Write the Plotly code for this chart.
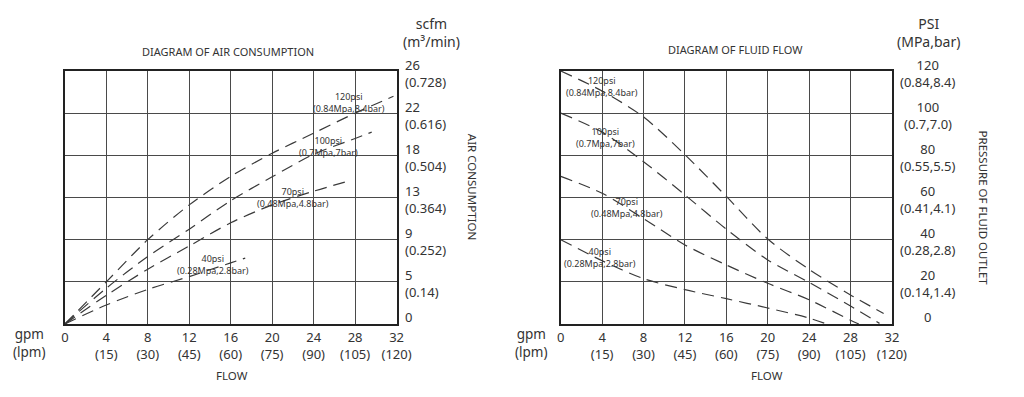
import numpy as np
import plotly.graph_objects as go

# ---------------- data ----------------
gpm_ticks = [0, 4, 8, 12, 16, 20, 24, 28, 32]
lpm_ticks = ["", "(15)", "(30)", "(45)", "(60)", "(75)", "(90)", "(105)", "(120)"]

# Air consumption chart (scfm axis with uneven labels at equal spacing)
scfm_ticks = [0, 5, 9, 13, 18, 22, 26]
m3_ticks = ["", "(0.14)", "(0.252)", "(0.364)", "(0.504)", "(0.616)", "(0.728)"]

air_120_gpm = [0, 4, 8, 12, 16, 20, 24, 28, 31.7]
air_120_scfm = [0, 5.0, 9.0, 12.3, 15.5, 18.2, 20.1, 22.0, 23.6]
air_100_gpm = [0, 4, 8, 12, 16, 20, 24, 28, 29.6]
air_100_scfm = [0, 4.25, 7.4, 10.0, 12.7, 15.45, 18.1, 19.6, 20.2]
air_70_gpm = [0, 4, 8, 12, 16, 20, 24, 27.4]
air_70_scfm = [0, 3.4, 6.2, 8.4, 10.6, 12.3, 13.75, 14.95]
air_40_gpm = [0, 4, 8, 12, 16, 17.4]
air_40_scfm = [0, 2.25, 4.1, 5.5, 6.8, 7.25]

# Fluid flow chart
psi_ticks = [0, 20, 40, 60, 80, 100, 120]
mpa_ticks = ["", "(0.14,1.4)", "(0.28,2.8)", "(0.41,4.1)", "(0.55,5.5)", "(0.7,7.0)", "(0.84,8.4)"]

flow_120_gpm = [0, 4, 8, 12, 16, 20, 24, 28, 31.2]
flow_120_psi = [120, 110.5, 98.2, 80.3, 60.5, 40.3, 25.9, 13.8, 5]
flow_100_gpm = [0, 4, 8, 12, 16, 20, 24, 28, 30.8]
flow_100_psi = [100, 91, 77, 61.2, 45, 30.4, 19.7, 8.5, 0.3]
flow_70_gpm = [0, 4, 8, 12, 16, 20, 24, 28, 28.8]
flow_70_psi = [70, 62, 50, 37.5, 28, 19.3, 11.5, 1.8, 0]
flow_40_gpm = [0, 4, 8, 12, 16, 20, 24, 25.7]
flow_40_psi = [40, 30, 21.5, 16.3, 12, 7.6, 2.8, 0]

series_labels = ["120psi<br>(0.84Mpa,8.4bar)", "100psi<br>(0.7Mpa,7bar)",
                 "70psi<br>(0.48Mpa,4.8bar)", "40psi<br>(0.28Mpa,2.8bar)"]

# ---------------- figure ----------------
W, H = 1024, 397
FONT = "Noto Sans"
TXT = "#333333"
LINE = "#3a3a3a"
DASH = "12px,7px"

def px(x):
    return x / W

def py(y):
    return 1 - y / H

level_pos = list(range(len(scfm_ticks)))

def to_level(v):
    return np.interp(v, scfm_ticks, level_pos)

fig = go.Figure()

air = [(air_120_gpm, air_120_scfm), (air_100_gpm, air_100_scfm),
       (air_70_gpm, air_70_scfm), (air_40_gpm, air_40_scfm)]
for xs, ys in air:
    fig.add_trace(go.Scatter(x=xs, y=to_level(ys), mode="lines",
                             line=dict(color=LINE, width=1.2, dash=DASH, shape="spline", smoothing=0.8),
                             xaxis="x", yaxis="y", showlegend=False, hoverinfo="skip"))

flow = [(flow_120_gpm, flow_120_psi), (flow_100_gpm, flow_100_psi),
        (flow_70_gpm, flow_70_psi), (flow_40_gpm, flow_40_psi)]
for xs, ys in flow:
    fig.add_trace(go.Scatter(x=xs, y=ys, mode="lines",
                             line=dict(color=LINE, width=1.2, dash=DASH, shape="spline", smoothing=0.8),
                             xaxis="x2", yaxis="y2", showlegend=False, hoverinfo="skip"))

xt = [f"{g}<br>{l}" if l else f"{g}" for g, l in zip(gpm_ticks, lpm_ticks)]
common_x = dict(range=[0, 32], tickvals=gpm_ticks, ticktext=xt, showgrid=True,
                gridcolor="#4a4a4a", gridwidth=1.2, zeroline=False, showline=True,
                linecolor="#222222", linewidth=2, mirror=True, ticks="",
                tickfont=dict(family=FONT, size=13, color=TXT), fixedrange=True)
common_y = dict(showgrid=True, gridcolor="#4a4a4a", gridwidth=1.2, zeroline=False,
                showline=True, linecolor="#222222", linewidth=2, mirror=True,
                ticks="", showticklabels=False, fixedrange=True)

fig.update_layout(
    width=W, height=H, autosize=False, margin=dict(l=0, r=0, t=0, b=0),
    paper_bgcolor="white", plot_bgcolor="white",
    font=dict(family=FONT, color=TXT),
    xaxis=dict(domain=[px(62), px(400)], anchor="y", **common_x),
    yaxis=dict(domain=[py(324), py(71)], anchor="x", range=[0, 6],
               tickvals=level_pos, **common_y),
    xaxis2=dict(domain=[px(567.3), px(904.7)], anchor="y2", **common_x),
    yaxis2=dict(domain=[py(324), py(71)], anchor="x2", range=[0, 120],
                tickvals=psi_ticks, **common_y),
)

ann = []

def paper_text(x, y, text, size, **kw):
    d = dict(x=px(x), y=py(y), xref="paper", yref="paper", text=text, showarrow=False,
             xanchor="center", yanchor="middle", align="center",
             font=dict(family=FONT, size=size, color=TXT))
    d.update(kw)
    return d

# right-side tick labels, left chart
for i, (v, s) in enumerate(zip(scfm_ticks, m3_ticks)):
    t = f"{v}<br>{s}" if s else f"{v}"
    ann.append(dict(x=px(407), xref="paper", y=i, yref="y", text=t, showarrow=False,
                    xanchor="left", yanchor="middle", align="left",
                    yshift=(7 if not s else -2),
                    font=dict(family=FONT, size=13, color=TXT)))
# right-side tick labels, right chart
for v, s in zip(psi_ticks, mpa_ticks):
    t = f"{v}<br>{s}" if s else f"{v}"
    ann.append(dict(x=px(941), xref="paper", y=v, yref="y2", text=t, showarrow=False,
                    xanchor="center", yanchor="middle", align="center",
                    yshift=(7 if not s else -2),
                    font=dict(family=FONT, size=13, color=TXT)))

# unit headers
ann.append(paper_text(436, 33, "scfm<br>(m³/min)", 14))
ann.append(paper_text(942, 33, "PSI<br>(MPa,bar)", 14))
# titles
ann.append(paper_text(228, 51.5, "DIAGRAM OF AIR CONSUMPTION", 11))
ann.append(paper_text(745, 49.5, "DIAGRAM OF FLUID FLOW", 11))
# vertical axis titles
ann.append(paper_text(478, 187, "AIR CONSUMPTION", 11.5, textangle=90))
ann.append(paper_text(999, 208, "PRESSURE OF FLUID OUTLET", 11.5, textangle=90))
# x titles
for xc in (232.7, 777):
    ann.append(paper_text(xc, 375, "FLOW", 11.5))
for xc in (26, 537):
    ann.append(paper_text(xc, 342.5, "gpm<br>(lpm)", 13.5))

# curve labels
left_lab_pos = [(27.4, 5.25), (25.4, 4.2), (22.0, 3.01), (14.3, 1.41)]
right_lab_pos = [(3.95, 112.5), (4.3, 88.5), (6.4, 55.1), (3.75, 31.5)]
for lab, (x, y) in zip(series_labels, left_lab_pos):
    ann.append(dict(x=x, y=y, xref="x", yref="y", text=lab, showarrow=False,
                    xanchor="center", yanchor="middle",
                    align="center", font=dict(family=FONT, size=9, color=TXT)))
for lab, (x, y) in zip(series_labels, right_lab_pos):
    ann.append(dict(x=x, y=y, xref="x2", yref="y2", text=lab, showarrow=False,
                    xanchor="center", yanchor="middle",
                    align="center", font=dict(family=FONT, size=9, color=TXT)))

fig.update_layout(annotations=ann)
post = ("document.documentElement.style.overflow='hidden';"
        "document.body.style.margin='0';document.body.style.overflow='hidden';")
fig.write_html("out.html", config={"displayModeBar": False}, post_script=post)
